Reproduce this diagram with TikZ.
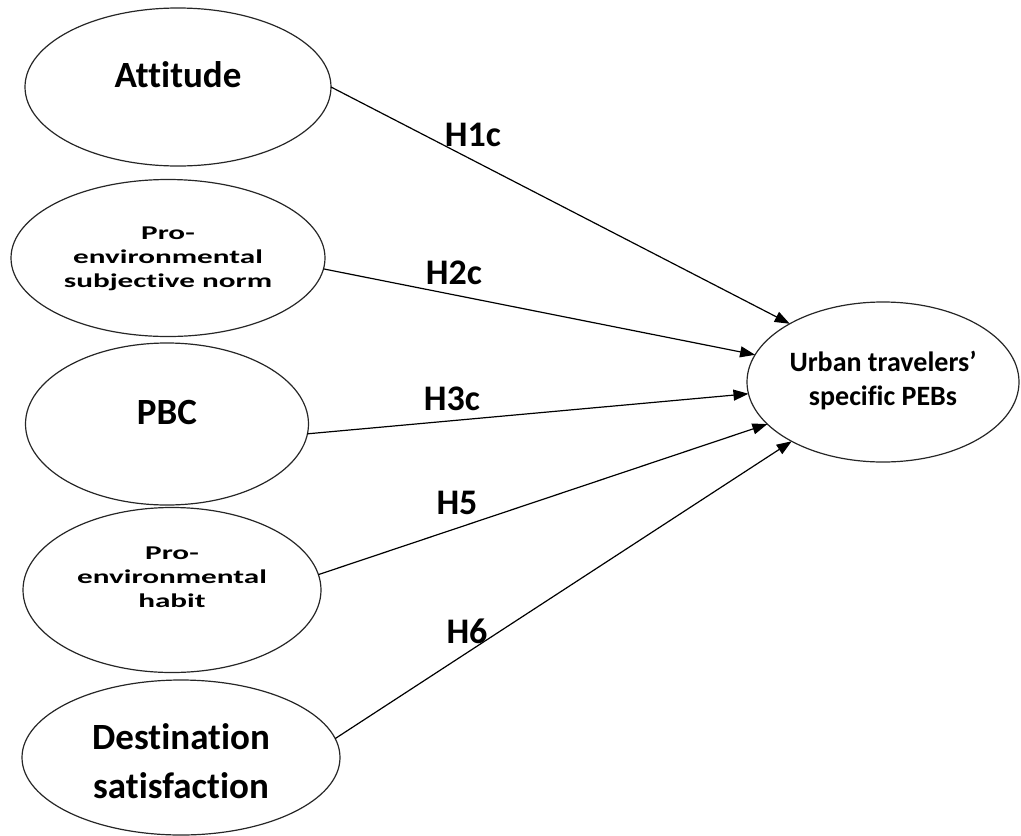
\documentclass[tikz,border=0pt]{standalone}
\usepackage{fontspec}
\setmainfont[Ligatures=NoCommon]{Carlito}
\newfontfamily\widefont[FakeStretch=1.6,Ligatures=NoCommon]{Carlito}
\usetikzlibrary{shapes.geometric,arrows.meta}

\tikzset{
  construct/.style={ellipse, draw=black!85, line width=1.2pt, inner sep=0pt, outer sep=0pt},
  bigtext/.style={inner sep=0pt, align=center, font=\fontsize{37}{49}\selectfont\bfseries},
  widetext/.style={inner sep=0pt, align=center, font=\widefont\fontsize{19.5}{24}\selectfont\bfseries},
  pebtext/.style={inner sep=0pt, align=center, font=\fontsize{28}{34}\selectfont\bfseries},
  hyp/.style={inner sep=0pt, font=\fontsize{36}{40}\selectfont\bfseries},
  path arrow/.style={line width=1.2pt, -{Triangle[length=15pt,width=11pt]}}
}

\begin{document}
\begin{tikzpicture}[x=1pt, y=-1pt]
  \useasboundingbox (0,0) rectangle (1021,836);

  % predictor constructs
  \node[construct, minimum width=306pt, minimum height=158pt] (att)   at (178,87)    {};
  \node[construct, minimum width=314pt, minimum height=157pt] (norm)  at (168,258)   {};
  \node[construct, minimum width=283pt, minimum height=162pt] (pbc)   at (167,424)   {};
  \node[construct, minimum width=298pt, minimum height=165pt] (habit) at (172,590)   {};
  \node[construct, minimum width=318pt, minimum height=155pt] (dest)  at (181,757.5) {};

  % outcome construct
  \node[construct, minimum width=272pt, minimum height=160pt] (peb)   at (883,382)   {};

  % construct names
  \node[bigtext]  (att-t)   at (178,75)    {Attitude};
  \node[widetext] (norm-t)  at (168,258.5) {Pro-\\environmental\\subjective norm};
  \node[bigtext]  (pbc-t)   at (167,412)   {PBC};
  \node[widetext] (habit-t) at (172,577.5) {Pro-\\environmental\\habit};
  \node[bigtext]  (dest-t)  at (181,761)   {Destination\\satisfaction};
  \node[pebtext]  (peb-t)   at (883,381)   {Urban travelers’\\specific PEBs};

  % hypothesised paths
  \draw[path arrow] (att.east)  -- (peb.148.4);
  \draw[path arrow] (norm.-4)   -- (peb.168);
  \draw[path arrow] (pbc.-4)    -- (peb.185.5);
  \draw[path arrow] (habit.6.2) -- (peb.200);
  \draw[path arrow] (dest.7.4)  -- (peb.213.4);

  % path labels
  \node[hyp] (h1c) at (473,135) {H1c};
  \node[hyp] (h2c) at (454,273) {H2c};
  \node[hyp] (h3c) at (452,399) {H3c};
  \node[hyp] (h5)  at (457,503) {H5};
  \node[hyp] (h6)  at (467,631) {H6};
\end{tikzpicture}
\end{document}
